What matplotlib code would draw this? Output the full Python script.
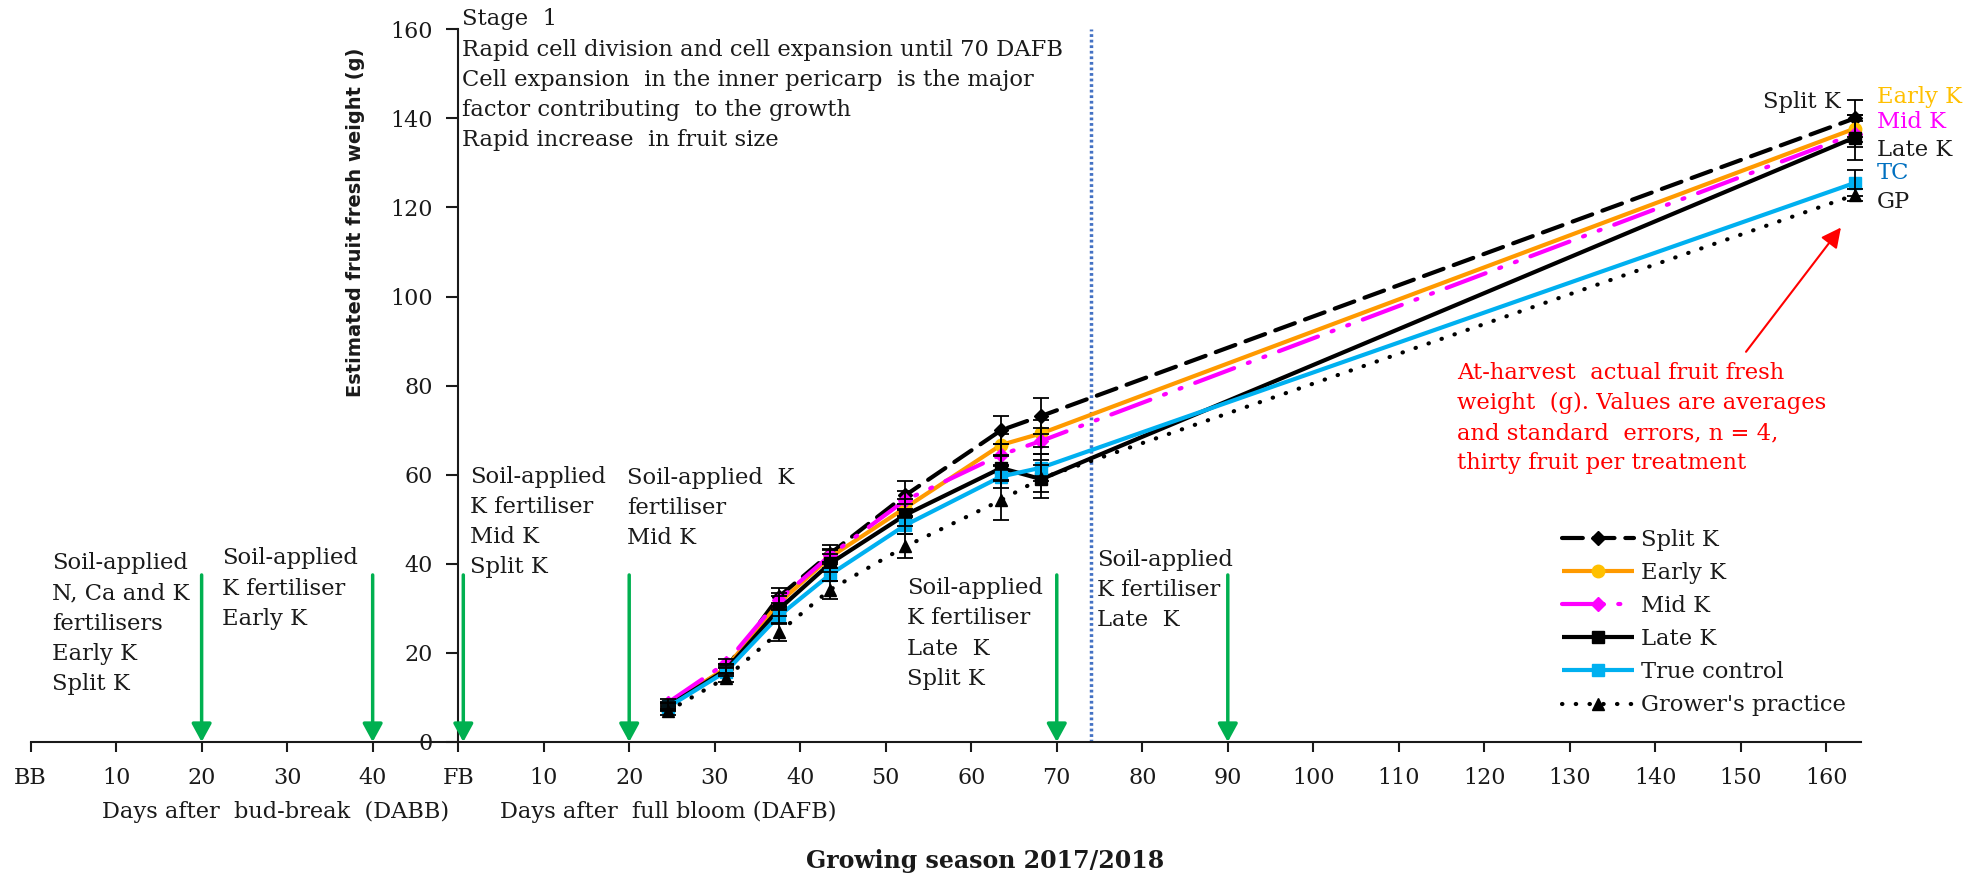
import matplotlib
matplotlib.use('Agg')
import matplotlib.pyplot as plt
import numpy as np

plt.rcParams['font.family'] = ['DejaVu Serif']

# ---------------- data ----------------
days = [24.5, 31.3, 37.5, 43.5, 52.3, 63.5, 68.2, 163.3]   # days after full bloom
split_k = [8.0, 16.5, 32.6, 42.3, 55.4, 70.0, 73.2, 140.0]
early_k = [8.2, 16.6, 31.2, 41.5, 52.6, 66.7, 69.3, 137.7]
mid_k = [8.8, 17.7, 31.9, 41.9, 54.3, 64.5, 67.6, 136.5]
late_k = [8.0, 16.2, 29.8, 40.1, 51.0, 61.5, 59.0, 135.7]
true_control = [7.8, 15.8, 28.3, 37.6, 48.7, 59.6, 61.6, 125.5]
growers = [6.9, 14.4, 24.6, 34.2, 43.9, 54.3, 59.2, 122.8]

split_k_se = [0.8, 1.0, 2.0, 2.0, 3.3, 3.2, 4.0, 4.1]
early_k_se = [0.8, 1.0, 1.5, 1.5, 2.0, 2.5, 3.0, 3.0]
mid_k_se = [0.8, 1.0, 1.5, 1.5, 2.0, 2.5, 3.0, 3.0]
late_k_se = [0.8, 1.0, 1.5, 2.0, 2.5, 3.0, 4.3, 5.0]
true_control_se = [0.8, 1.0, 1.5, 1.5, 2.0, 2.5, 3.0, 3.0]
growers_se = [0.8, 1.0, 2.0, 2.0, 2.7, 4.5, 3.0, 1.3]

series_names = ['Split K', 'Early K', 'Mid K', 'Late K', 'True control', "Grower's practice"]

tick_pos = list(range(-50, 161, 10))
tick_labels = ['BB', '10', '20', '30', '40', 'FB'] + [str(v) for v in range(10, 161, 10)]

fert_days = [-30, -10, 0.6, 20, 70, 90]      # green arrows (fertiliser application)
stage_boundary = 74

# ---------------- figure ----------------
fig = plt.figure(figsize=(19.87, 8.77), dpi=100)
ax = fig.add_axes([30.6 / 1987, 1 - 742 / 877, 1830 / 1987, 712.7 / 877])
ax.set_xlim(-50, 164)
ax.set_ylim(0, 160)

for s in ['top', 'right']:
    ax.spines[s].set_visible(False)
ax.spines['left'].set_position(('data', 0))
for s in ['left', 'bottom']:
    ax.spines[s].set_linewidth(1.5)
    ax.spines[s].set_color('#1a1a1a')
    ax.spines[s].set_zorder(2)

ax.set_xticks(tick_pos)
ax.set_xticklabels(tick_labels)
ax.set_yticks(range(0, 161, 20))
ax.tick_params(axis='x', direction='out', length=7, width=1.5, pad=11, labelsize=16,
               colors='#1a1a1a')
ax.tick_params(axis='y', direction='out', length=9, width=1.5, pad=9, labelsize=16,
               colors='#1a1a1a')

# ---------------- series ----------------
lw = 3.0
styles = [
    dict(color='black', ls=(0, (5, 2.6)), marker='D', ms=7, mfc='black', mec='black'),
    dict(color='#FF9A00', ls='-', marker='o', ms=9, mfc='#FFC000', mec='#FFC000'),
    dict(color='#FF00FF', ls=(0, (10, 3.5, 0.5, 3.5, 0.5, 3.5)), marker='D', ms=7,
         mfc='#FF00FF', mec='#FF00FF'),
    dict(color='black', ls='-', marker='s', ms=8, mfc='black', mec='black'),
    dict(color='#00B0F0', ls='-', marker='s', ms=8, mfc='#00B0F0', mec='#00B0F0'),
    dict(color='black', ls=(0, (0.1, 3.2)), marker='^', ms=8, mfc='black', mec='black'),
]
values = [split_k, early_k, mid_k, late_k, true_control, growers]
errors = [split_k_se, early_k_se, mid_k_se, late_k_se, true_control_se, growers_se]

handles = []
for i, (name, vals, errs, st) in enumerate(zip(series_names, values, errors, styles)):
    line, = ax.plot(days, vals, color=st['color'], linestyle=st['ls'], linewidth=lw,
                    marker=st['marker'], markersize=st['ms'], markerfacecolor=st['mfc'],
                    markeredgecolor=st['mec'], dash_capstyle='round', solid_capstyle='butt',
                    label=name, zorder=3 + i * 0.1, clip_on=False)
    ax.errorbar(days, vals, yerr=errs, fmt='none', ecolor='black', elinewidth=1.3,
                capsize=6, capthick=1.3, zorder=4, clip_on=False)
    handles.append(line)

# ---------------- arrows and boundary ----------------
for d in fert_days:
    ax.annotate('', xy=(d, 0), xytext=(d, 37.5),
                arrowprops=dict(arrowstyle='-|>,head_length=0.55,head_width=0.3',
                                color='#00B050', lw=2.5, shrinkA=0, shrinkB=0,
                                mutation_scale=20), zorder=5)

ax.plot([stage_boundary, stage_boundary], [0, 160], color='#4472C4', lw=2.5,
        ls=(0, (0.8, 0.8)), zorder=2, clip_on=False)

# ---------------- texts ----------------
tc = '#1a1a1a'
fs = 16.3
lsp = 1.48
ax.text(0.5, 164.7, "Stage  1\nRapid cell division and cell expansion until 70 DAFB\n"
        "Cell expansion  in the inner pericarp  is the major\n"
        "factor contributing  to the growth\nRapid increase  in fruit size",
        ha='left', va='top', fontsize=fs, color=tc, linespacing=lsp)

notes = [
    (-47.5, 42.6, "Soil-applied\nN, Ca and K\nfertilisers\nEarly K\nSplit K"),
    (-27.6, 43.7, "Soil-applied\nK fertiliser\nEarly K"),
    (1.4, 62.0, "Soil-applied\nK fertiliser\nMid K\nSplit K"),
    (19.8, 61.7, "Soil-applied  K\nfertiliser\nMid K"),
    (52.5, 37.0, "Soil-applied\nK fertiliser\nLate  K\nSplit K"),
    (74.7, 43.3, "Soil-applied\nK fertiliser\nLate  K"),
]
for x, y, t in notes:
    ax.text(x, y, t, ha='left', va='top', fontsize=fs, color=tc, linespacing=lsp)

# end labels
ax.text(161.7, 143.7, 'Split K', ha='right', va='center', fontsize=fs, color=tc)
end_labels = [('Early K', '#FFC000', 144.9), ('Mid K', '#FF00FF', 139.2),
              ('Late K', tc, 133.0), ('TC', '#0070C0', 127.7), ('GP', tc, 121.3)]
for t, c, y in end_labels:
    ax.text(165.9, y, t, ha='left', va='center', fontsize=fs, color=c, clip_on=False)

ax.text(116.8, 85.4, "At-harvest  actual fruit fresh\nweight  (g). Values are averages\n"
        "and standard  errors, n = 4,\nthirty fruit per treatment",
        ha='left', va='top', fontsize=fs, color='#FF0000', linespacing=lsp)
ax.annotate('', xy=(161.7, 115.5), xytext=(150.6, 87.6),
            arrowprops=dict(arrowstyle='-|>,head_length=0.6,head_width=0.3',
                            color='#FF0000', lw=1.5, shrinkA=0, shrinkB=0,
                            mutation_scale=20))

# axis titles
ax.text(-21.3, -15.6, 'Days after  bud-break  (DABB)', ha='center', va='center',
        fontsize=16.2, color=tc)
ax.text(24.6, -15.6, 'Days after  full bloom (DAFB)', ha='center', va='center',
        fontsize=16.2, color=tc)
ax.text(61.6, -26.8, 'Growing season 2017/2018', ha='center', va='center',
        fontsize=17, fontweight='bold', color=tc)
ax.text(-12.0, 116.7, 'Estimated fruit fresh weight (g)', ha='center', va='center',
        rotation=90, fontsize=14, fontweight='bold', color=tc, family=['DejaVu Sans'])

# legend
leg = ax.legend(handles=handles, labels=series_names, loc='upper left',
                bbox_to_anchor=(1562 / 1987, 1 - 529 / 877), bbox_transform=fig.transFigure,
                frameon=False, fontsize=fs, handlelength=3.2, handletextpad=0.3,
                labelspacing=0.49, borderpad=0, borderaxespad=0)
for t in leg.get_texts():
    t.set_color(tc)

fig.savefig('out.png', dpi=100)
